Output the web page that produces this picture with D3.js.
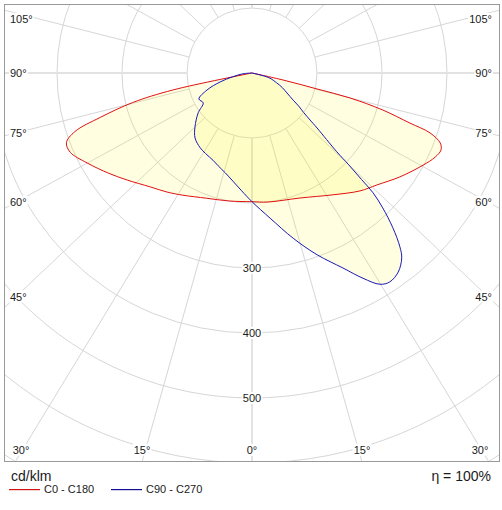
<!DOCTYPE html>
<html>
<head>
<meta charset="utf-8">
<script src="https://cdn.jsdelivr.net/npm/d3@7"></script>
<style>
	body { margin: 0; background: #fff; }
	text { font-family: "Liberation Sans", Arial, sans-serif; fill: #1a1a1a; }
</style>
</head>
<body>
<script>
//grid rings (cd/klm) and angles (degrees from nadir)
var ringValues = [100, 200, 300, 400, 500, 600, 700];
var ringLabels = [300, 400, 500];
var spokeAngles = [0, 15, 30, 45, 60, 75, 90, 105, 120, 135, 150, 165, 180];
var angleLabels = [0, 15, 30, 45, 60, 75, 90, 105];

//C0 - C180 curve, C180 is the left half
var c180Angles = [90, 77.9, 76.1, 73.7, 71.7, 69.4, 66.4, 61.4, 55, 49.4, 41.8, 35.5, 29.5, 20, 10];
var c180Values = [0, 124, 189, 243, 287, 305, 305, 289, 269, 253, 235, 225, 216, 205, 200];
var c0Angles = [0, 7, 21, 33.6, 42.5, 48.1, 54.9, 61.7, 65.3, 67.8, 69.6, 71.4, 72.4, 74.2, 75.7, 76.2, 77.3, 90];
var c0Values = [198, 200, 206, 225, 246, 258, 278, 299, 310, 314, 309, 289, 255, 209, 156, 103, 49, 0];

//C90 - C270 curve, C270 is the left half
var c270Angles = [90, 85, 79, 74.3, 69.3, 63.9, 58.5, 53.5, 46.5, 41.2, 34.7, 30, 24.1, 20, 15, 10, 5];
var c270Values = [0, 14, 30, 51, 74, 91, 88, 103, 121, 133, 140, 143, 147, 152, 159, 169, 182];
var c90Angles = [0, 7.1, 14, 19.7, 25, 28.4, 31.2, 33.4, 36.3, 39, 40.4, 42.3, 44.1, 45.3, 45.8, 46.5, 47.1, 49.8, 51, 52.6, 54.7, 56.6, 60.3, 64.2, 68.2, 74.5, 90];
var c90Values = [198, 225, 262, 297, 331, 359, 380, 385, 380, 366, 351, 322, 289, 262, 235, 205, 178, 131, 115, 100, 88, 76, 62, 52, 41, 27, 0];

var unitText = "cd/klm";
var etaText = "\u03B7 = 100%";
var seriesNames = ["C0 - C180", "C90 - C270"];
var seriesColors = ["#e01010", "#1818b8"];
var legendColors = ["#d01515", "#101098"];

window.onload = function(){

	var w = 502, h = 510;
	var frame = {x: 4, y: 4, w: 496, h: 458};
	var cx = 252, cy = 73;
	var stretch = 1.055;

	var r = d3.scaleLinear()
		.domain([0, 100])
		.range([0, 65]);

	var svg = d3.select("body")
		.append("svg")
		.attr("width", w)
		.attr("height", h);

	svg.append("clipPath")
		.attr("id", "frameClip")
		.append("rect")
		.attr("x", frame.x)
		.attr("y", frame.y)
		.attr("width", frame.w)
		.attr("height", frame.h);

	var plot = svg.append("g")
		.attr("clip-path", "url(#frameClip)");

	var grid = plot.append("g")
		.attr("transform", "translate(" + cx + "," + cy + ")");

	grid.selectAll(".ring")
		.data(ringValues)
		.enter()
		.append("circle")
		.attr("class", "ring")
		.attr("r", function(d){ return r(d); })
		.style("fill", "none")
		.style("stroke", "#d6d6d6");

	//spoke direction, slightly wider horizontally like the original
	function dir(a, side){
		var rad = a * Math.PI / 180;
		var ux = side * stretch * Math.sin(rad), uy = Math.cos(rad);
		var n = Math.sqrt(ux * ux + uy * uy);
		return [ux / n, uy / n];
	}

	var spokes = [];
	spokeAngles.forEach(function(a){
		spokes.push({a: a, side: 1});
		if (a > 0 && a < 180) spokes.push({a: a, side: -1});
	});

	grid.selectAll(".spoke")
		.data(spokes)
		.enter()
		.append("line")
		.attr("class", "spoke")
		.attr("x1", function(d){ return dir(d.a, d.side)[0] * r(100); })
		.attr("y1", function(d){ return dir(d.a, d.side)[1] * r(100); })
		.attr("x2", function(d){ return dir(d.a, d.side)[0] * r(900); })
		.attr("y2", function(d){ return dir(d.a, d.side)[1] * r(900); })
		.style("stroke", function(d){ return (d.a % 90 == 0) ? "#e2e2e2" : "#d6d6d6"; })
		.style("stroke-width", function(d){ return (d.a % 90 == 0) ? 2 : 1; });

	//curves
	function halves(leftA, leftV, rightA, rightV){
		var pts = [];
		for (var i = 0; i < leftA.length; i++){
			pts.push({a: Math.PI + leftA[i] * Math.PI / 180, v: leftV[i]});
		}
		for (var j = 0; j < rightA.length; j++){
			pts.push({a: Math.PI - rightA[j] * Math.PI / 180, v: rightV[j]});
		}
		return pts;
	}

	var curves = [
		halves(c180Angles, c180Values, c0Angles, c0Values),
		halves(c270Angles, c270Values, c90Angles, c90Values)
	];

	var radial = d3.lineRadial()
		.angle(function(d){ return d.a; })
		.radius(function(d){ return r(d.v); })
		.curve(d3.curveCatmullRom.alpha(0.5));

	var curveG = plot.append("g")
		.attr("transform", "translate(" + cx + "," + cy + ")");

	curveG.selectAll(".area")
		.data(curves)
		.enter()
		.append("path")
		.attr("class", "area")
		.attr("d", function(d){ return radial(d) + "Z"; })
		.style("fill", "rgb(255,250,20)")
		.style("fill-opacity", 0.13)
		.style("stroke", "none");

	curveG.selectAll(".curve")
		.data(curves)
		.enter()
		.append("path")
		.attr("class", "curve")
		.attr("d", function(d){ return radial(d); })
		.style("fill", "none")
		.style("stroke", function(d, i){ return seriesColors[i]; })
		.style("stroke-width", 1);

	//labels with white boxes behind them
	function boxLabel(parent, x, y, txt, anchor){
		var g = parent.append("g");
		var bg = g.append("rect").style("fill", "#fff");
		var t = g.append("text")
			.attr("x", x)
			.attr("y", y)
			.attr("dy", "0.35em")
			.attr("text-anchor", anchor)
			.style("font-size", "11px")
			.text(txt);
		var bb = t.node().getBBox();
		bg.attr("x", bb.x - 1)
			.attr("y", bb.y)
			.attr("width", bb.width + 2)
			.attr("height", bb.height);
	}

	var labelG = plot.append("g");

	ringLabels.forEach(function(v){
		boxLabel(labelG, cx, cy + r(v), v, "middle");
	});

	var bottomY = 450;
	angleLabels.forEach(function(a){
		[-1, 1].forEach(function(side){
			if (a == 0 && side == 1) return;
			var u = dir(a, side);
			var tx = (cx - 16) / Math.abs(u[0] || 1e-9);
			var ty = u[1] > 0 ? (bottomY - cy) / u[1] : Infinity;
			if (a == 0 || ty < tx){
				var bx = cx + u[0] * (frame.y + frame.h - cy) / u[1];
				bx = Math.max(21, Math.min(480, bx));
				boxLabel(labelG, bx, bottomY, a + "\u00B0", "middle");
			} else {
				var ly = Math.max(19, cy + u[1] * tx);
				if (side < 0){
					boxLabel(labelG, 10, ly, a + "\u00B0", "start");
				} else {
					boxLabel(labelG, 492, ly, a + "\u00B0", "end");
				}
			}
		});
	});

	svg.append("rect")
		.attr("x", frame.x + 0.5)
		.attr("y", frame.y + 0.5)
		.attr("width", frame.w - 1)
		.attr("height", frame.h - 1)
		.style("fill", "none")
		.style("stroke", "#999");

	svg.append("text")
		.attr("x", 11)
		.attr("y", 481)
		.style("font-size", "14px")
		.text(unitText);

	svg.append("text")
		.attr("x", 491)
		.attr("y", 481)
		.attr("text-anchor", "end")
		.style("font-size", "14px")
		.text(etaText);

	var legendItems = seriesNames.map(function(name, i){
		return {name: name, color: legendColors[i], x: 9 + i * 102};
	});

	svg.selectAll(".legendLine")
		.data(legendItems)
		.enter()
		.append("rect")
		.attr("class", "legendLine")
		.attr("x", function(d){ return d.x; })
		.attr("y", 489)
		.attr("width", 31)
		.attr("height", 1.2)
		.style("fill", function(d){ return d.color; });

	svg.selectAll(".legendText")
		.data(legendItems)
		.enter()
		.append("text")
		.attr("class", "legendText")
		.attr("x", function(d){ return d.x + 35; })
		.attr("y", 489.5)
		.attr("dy", "0.35em")
		.style("font-size", "11px")
		.text(function(d){ return d.name; });
};
</script>
</body>
</html>
